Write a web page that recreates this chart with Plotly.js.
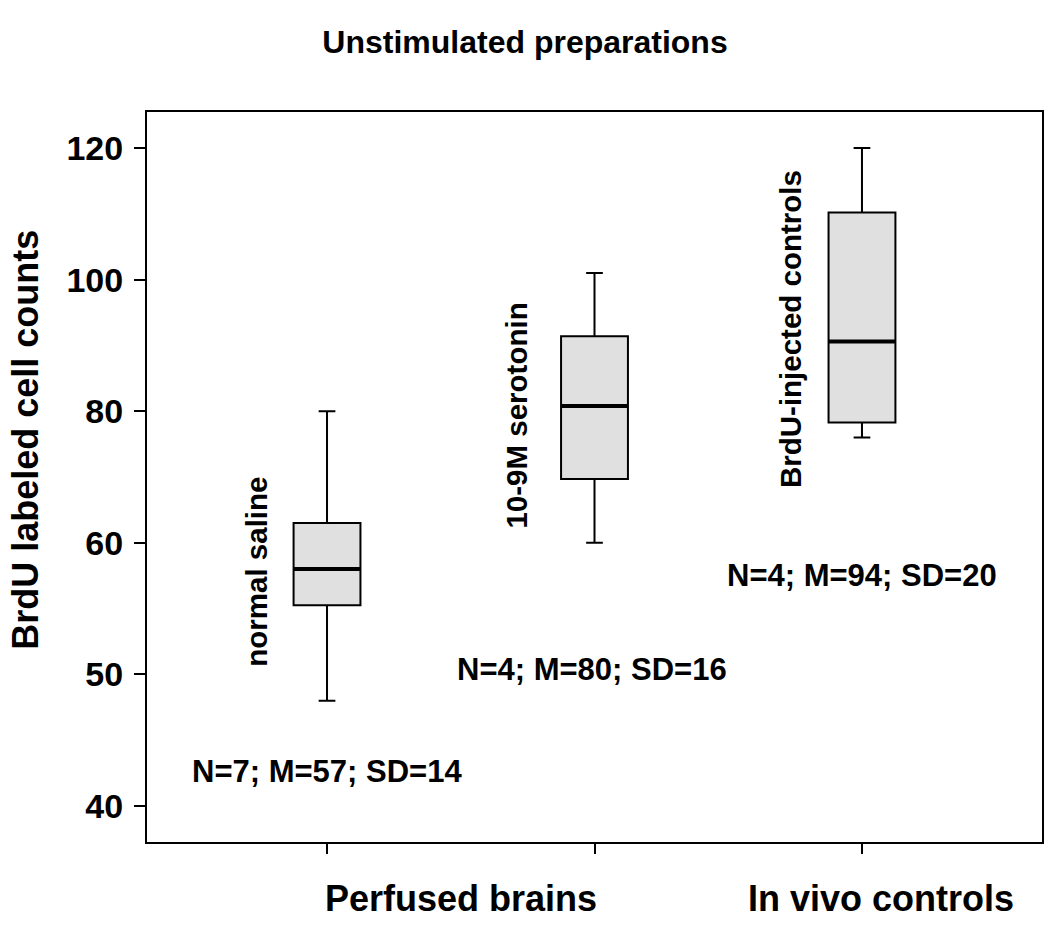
<!DOCTYPE html>
<html>
<head>
<meta charset="utf-8">
<script src="https://cdn.plot.ly/plotly-3.0.1.min.js"></script>
<style>html,body{margin:0;padding:0;background:#fff;}#chart{width:1050px;height:939px;}</style>
</head>
<body>
<div id="chart"></div>
<script>
// ---- data (y in the chart's axis units) ----
const groups = ['normal saline', '10-9M serotonin', 'BrdU-injected controls'];
const positions = [1, 2, 3];
const lowerFence = [36, 60, 76];
const q1 = [50.5, 69.7, 78.3];
const median = [56, 80.8, 90.6];
const q3 = [63, 91.4, 110.2];
const upperFence = [80, 101, 120];
const statsText = ['N=7; M=57; SD=14', 'N=4; M=80; SD=16', 'N=4; M=94; SD=20'];
const tickVals = [20, 40, 60, 80, 100, 120];
const tickText = ['40', '50', '60', '80', '100', '120'];
const sectionLabels = ['Perfused brains', 'In vivo controls'];

// ---- layout-only positions ----
const groupLabelPos = [[0.738, 55.6], [1.708, 79.4], [2.735, 92.5]];
const statsPos = [[1.0, 25.3], [1.99, 40.7], [3.0, 55.1]];
const sectionPos = [1.5, 3.07];

const FONT = 'Liberation Sans, Arial, Helvetica, sans-serif';
const boxWidth = 0.25;

const boxTrace = {
  type: 'box',
  x: positions,
  q1: q1, median: median, q3: q3,
  lowerfence: lowerFence, upperfence: upperFence,
  width: boxWidth,
  whiskerwidth: 0.25,
  boxpoints: false,
  fillcolor: '#e0e0e0',
  line: {color: '#000', width: 2},
  hoverinfo: 'skip',
  showlegend: false
};

const mx = [], my = [];
positions.forEach((p, i) => {
  mx.push(p - boxWidth / 2, p + boxWidth / 2, null);
  my.push(median[i], median[i], null);
});
const medianTrace = {
  type: 'scatter', mode: 'lines', x: mx, y: my,
  line: {color: '#000', width: 4}, hoverinfo: 'skip', showlegend: false
};

const annotations = [];
groups.forEach((g, i) => {
  annotations.push({
    text: g, x: groupLabelPos[i][0], y: groupLabelPos[i][1], xref: 'x', yref: 'y',
    textangle: -90, showarrow: false, xanchor: 'center', yanchor: 'middle',
    font: {family: FONT, size: 29.5, color: '#000', weight: 'bold'}
  });
  annotations.push({
    text: statsText[i], x: statsPos[i][0], y: statsPos[i][1], xref: 'x', yref: 'y',
    showarrow: false, xanchor: 'center', yanchor: 'middle',
    font: {family: FONT, size: 31, color: '#000', weight: 'bold'}
  });
});
sectionLabels.forEach((s, i) => {
  annotations.push({
    text: s, x: sectionPos[i], y: -0.077, xref: 'x', yref: 'paper',
    showarrow: false, xanchor: 'center', yanchor: 'middle',
    font: {family: FONT, size: 36, color: '#000', weight: 'bold'}
  });
});
// y axis title, placed as in the reference (slightly above the axis centre)
annotations.push({
  text: 'BrdU labeled cell counts', x: (26 - 147) / 895, xref: 'paper',
  y: 0.551, yref: 'paper',
  textangle: -90, showarrow: false, xanchor: 'center', yanchor: 'middle',
  font: {family: FONT, size: 36, color: '#000', weight: 'bold'}
});

const layout = {
  width: 1050, height: 939,
  paper_bgcolor: '#fff', plot_bgcolor: '#fff',
  margin: {l: 147, r: 8, t: 112, b: 97},
  title: {
    text: 'Unstimulated preparations', x: 0.5, xref: 'container', xanchor: 'center',
    y: 0.955, yref: 'container', yanchor: 'middle',
    font: {family: FONT, size: 32, color: '#000', weight: 'bold'}
  },
  xaxis: {
    range: [0.327, 3.673], tickvals: positions, ticktext: ['', '', ''],
    ticks: 'outside', ticklen: 10, tickwidth: 2, tickcolor: '#000',
    showline: true, linecolor: '#000', linewidth: 2, mirror: true,
    showgrid: false, zeroline: false
  },
  yaxis: {
    range: [14.53, 125.47], tickvals: tickVals, ticktext: tickText,
    ticks: 'outside', ticklen: 11, tickwidth: 2, tickcolor: '#000',
    ticklabelstandoff: 4,
    tickfont: {family: FONT, size: 34, color: '#000', weight: 'bold'},
    showline: true, linecolor: '#000', linewidth: 2, mirror: true,
    showgrid: false, zeroline: false
  },
  annotations: annotations,
  showlegend: false
};

Plotly.newPlot('chart', [boxTrace, medianTrace], layout, {displayModeBar: false, staticPlot: true});
</script>
</body>
</html>
